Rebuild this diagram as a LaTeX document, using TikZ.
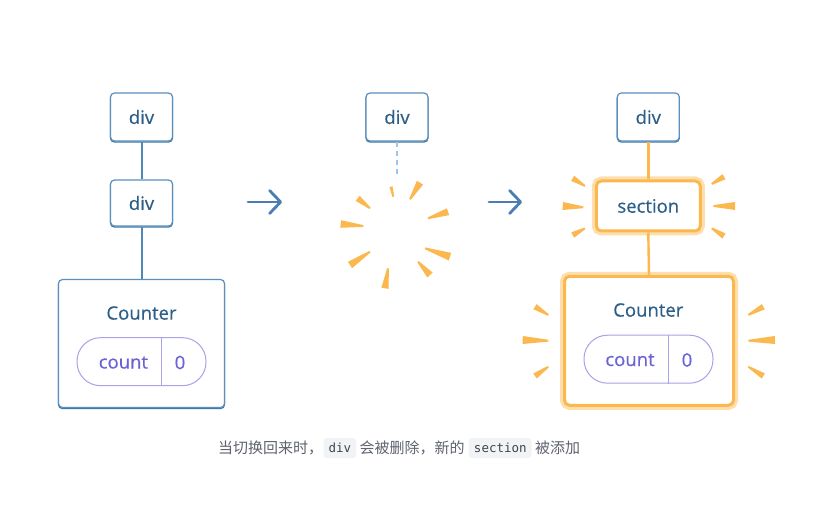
\documentclass[tikz,border=0pt]{standalone}
\usepackage{fontspec}
\setmainfont{Open Sans}
\newfontfamily\nodefont[FakeBold=0.45]{Open Sans}
\newfontfamily\cjkfont{Noto Sans CJK SC}
\newfontfamily\codefont{DejaVu Sans Mono}
\usetikzlibrary{arrows.meta,calc,positioning}
\definecolor{bluebd}{HTML}{5B90BE}
\definecolor{bluedk}{HTML}{3E76A6}
\definecolor{blueln}{HTML}{4E88B6}
\definecolor{bluetx}{HTML}{2C5E88}
\definecolor{bluearrow}{HTML}{4A7DB3}
\definecolor{bluedash}{HTML}{9DC6EA}
\definecolor{purbd}{HTML}{A7A2EA}
\definecolor{purtx}{HTML}{6A62D6}
\definecolor{orng}{HTML}{FBB84E}
\definecolor{glow}{HTML}{FDDFAE}
\definecolor{captx}{HTML}{5F6371}
\definecolor{codebg}{HTML}{F2F3F5}
\definecolor{codetx}{HTML}{40454F}
\tikzset{
  nodetextfont/.style={font=\nodefont\fontsize{18.5}{20}\selectfont},
  bluebox/.style={draw=bluebd, line width=1.2pt, fill=white, rounded corners=4pt,
    text=bluetx, nodetextfont, inner sep=0pt,
    preaction={draw=bluedk, line width=1.2pt, rounded corners=4pt, transform canvas={yshift=-1.1pt}}},
  orangebox/.style={draw=orng, line width=3pt, fill=white, rounded corners=5pt,
    text=bluetx, nodetextfont, inner sep=0pt,
    preaction={draw=glow, line width=9pt, rounded corners=5pt}},
  pill/.style={draw=purbd, line width=1pt, rounded corners=23.5pt, minimum width=129pt,
    minimum height=48pt, inner sep=0pt},
  pilltext/.style={text=purtx, nodetextfont, inner sep=0pt},
  titletext/.style={text=bluetx, nodetextfont, inner sep=0pt},
  blueline/.style={draw=blueln, line width=2pt},
  orangeline/.style={draw=orng, line width=2.4pt},
  dashline/.style={draw=bluedash, line width=1.8pt, dash pattern=on 5pt off 4pt},
  bigarrow/.style={draw=bluearrow, line width=2.8pt, line cap=round,
    -{Straight Barb[length=11pt,width=23pt,round]}},
  captext/.style={text=captx, font=\cjkfont\fontsize{15}{18}\selectfont, inner sep=0pt},
  codebox/.style={fill=codebg, rounded corners=3pt, text=codetx, inner xsep=5pt, inner ysep=0pt,
    minimum height=20pt, font=\codefont\fontsize{12.5}{15}\selectfont},
}
\newcommand\myray[3]{\fill[orng] ($(#1)!0.9pt!90:(#2)$) -- ($(#1)!0.9pt!-90:(#2)$) -- ($(#2)!#3!90:(#1)$) -- ($(#2)!#3!-90:(#1)$) -- cycle;}
\begin{document}
\begin{tikzpicture}[x=1pt,y=-1pt]
\useasboundingbox[fill=white] (0,0) rectangle (831,508);
% ---------- left column ----------
\node[bluebox, minimum width=62pt, minimum height=48pt] (ld1) at (141.5,117) {div};
\node[bluebox, minimum width=62pt, minimum height=46pt] (ld2) at (141.5,203) {div};
\node[bluebox, minimum width=166pt, minimum height=128pt] (lc) at (141.5,343.5) {};
\node[titletext] (lct) at (141.5,313) {Counter};
\node[pill] (lp) at (141.5,361.7) {};
\coordinate (ldiv) at (161.7,0);
\draw[purbd, line width=1pt] (lp.north -| ldiv) -- (lp.south -| ldiv);
\node[pilltext] (lpc) at (123.4,362.5) {count};
\node[pilltext] (lp0) at (180,362.5) {0};
\draw[blueline] (ld1.south) -- (ld2.north);
\draw[blueline] (ld2.south) -- (lc.north);
% arrow 1
\coordinate (a1s) at (248,202);
\coordinate (a1e) at (282,202);
\draw[bigarrow] (a1s) -- (a1e);
% ---------- middle column ----------
\node[bluebox, minimum width=62pt, minimum height=48pt] (md) at (397,117) {div};
\coordinate (mdend) at (397,177);
\draw[dashline] (md.south) -- (mdend);
\myray{393.3,196.7}{391,186.7}{1.6pt}
\myray{410,199.3}{420,182.7}{3.6pt}
\myray{428,218.3}{448,211.7}{3.6pt}
\myray{425,248.3}{450,256.7}{4pt}
\myray{418,261.7}{430,275}{3.6pt}
\myray{388,268.3}{385,288.3}{3.6pt}
\myray{370,251.7}{350,265}{3.8pt}
\myray{363.3,226}{340.7,224}{3.8pt}
\myray{370,208.3}{357.7,198.3}{3.2pt}
% arrow 2
\coordinate (a2s) at (489,202);
\coordinate (a2e) at (522,202);
\draw[bigarrow] (a2s) -- (a2e);
% ---------- right column ----------
\node[bluebox, minimum width=62pt, minimum height=48pt] (rd) at (648.3,117) {div};
\node[orangebox, minimum width=104pt, minimum height=50pt] (rs) at (648.3,206) {section};
\node[orangebox, minimum width=169pt, minimum height=129pt] (rc) at (649,340.8) {};
\node[titletext] (rct) at (648.3,310) {Counter};
\node[pill] (rp) at (648.5,359.2) {};
\coordinate (rdiv) at (668.3,0);
\draw[purbd, line width=1pt] (rp.north -| rdiv) -- (rp.south -| rdiv);
\node[pilltext] (rpc) at (630,360) {count};
\node[pilltext] (rp0) at (687,360) {0};
\draw[orangeline] (rd.south) -- (rs.north);
\draw[orangeline] (rs.south) -- (rc.north);
% rays around section
\myray{585,186}{572.7,178.3}{3pt}
\myray{583.3,207.3}{562.7,206}{4pt}
\myray{585,228.3}{572.7,235}{3pt}
\myray{711.7,184}{724,176.7}{3pt}
\myray{713.3,206}{735,206}{4pt}
\myray{711.7,228.3}{724,236}{3pt}
% rays around counter
\myray{548.3,315}{535,306.7}{3pt}
\myray{548.3,340.7}{522.7,340}{4pt}
\myray{548.3,366.7}{535,376}{3pt}
\myray{748.3,315}{763.3,306.7}{3pt}
\myray{748.3,340.7}{775,340}{4pt}
\myray{748.3,366.7}{763.3,376}{3pt}
% ---------- caption ----------
\node[captext, anchor=west] (c1) at (218,448) {当切换回来时，};
\node[codebox, right=0pt of c1] (k1) {div};
\node[captext, right=3pt of k1] (c2) {会被删除，新的};
\node[codebox, right=4pt of c2] (k2) {section};
\node[captext, right=3pt of k2] (c3) {被添加};
\end{tikzpicture}
\end{document}
